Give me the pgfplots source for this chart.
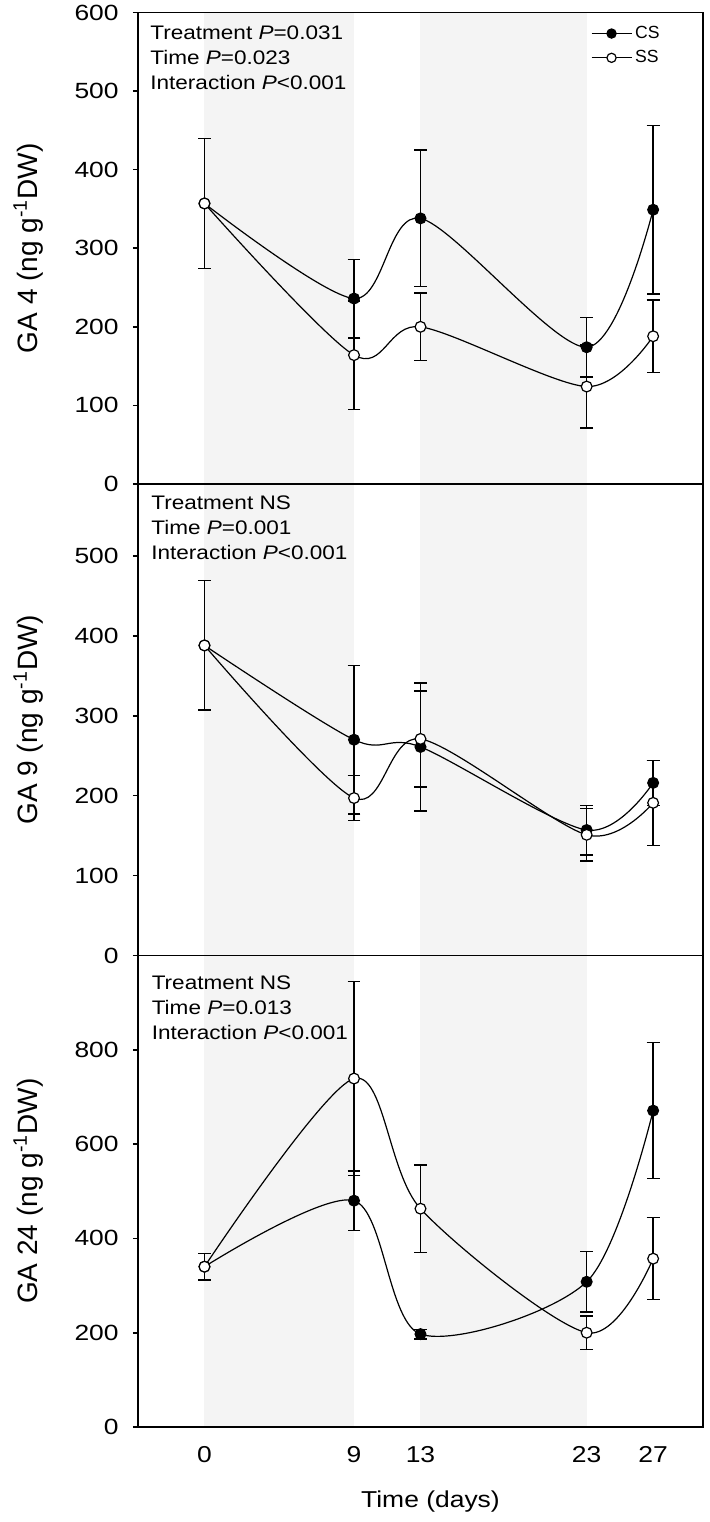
\documentclass[border=0pt]{standalone}
\usepackage{pgfplots}
\pgfplotsset{compat=1.18}
\usepackage{fontspec}
\setmainfont{Liberation Sans}
\newfontfamily\numfont{Liberation Sans}[FakeStretch=1.2]
\newfontfamily\widefont{Liberation Sans}[FakeStretch=1.15]
\definecolor{bandgray}{RGB}{244,244,244}

\pgfplotsset{
  panel/.style={
    scale only axis, width=282.5pt, height=235.75pt,
    anchor=south west,
    xmin=-4, xmax=30, xtick={0,9,13,23,27},
    xtick style={draw=none},
    ytick pos=left, tick align=outside, major tick length=2.5pt,
    axis line style={line width=0.8pt},
    ytick style={line width=0.8pt, black},
    yticklabel style={font=\numfont\fontsize{11}{13}\selectfont, inner sep=0pt, xshift=-7pt},
    xticklabel style={font=\widefont\fontsize{11.5}{13}\selectfont, inner sep=0pt},
    /pgf/number format/assume math mode=true,
    axis on top,
    ylabel style={at={(axis description cs:-0.194,0.5)}, anchor=center, font=\fontsize{14}{16}\selectfont},
  },
  csplot/.style={black, line width=0.6pt, smooth, mark=*, mark size=2.7pt,
    mark options={fill=black, draw=black, solid},
    error bars/.cd, y dir=both, y explicit,
    error bar style={line width=0.7pt, black},
    error mark options={rotate=90, mark size=3.2pt, line width=0.7pt, black}},
  ssplot/.style={black, line width=0.6pt, smooth, mark=*, mark size=2.7pt,
    mark options={fill=white, draw=black, solid},
    error bars/.cd, y dir=both, y explicit,
    error bar style={line width=0.7pt, black},
    error mark options={rotate=90, mark size=3.2pt, line width=0.7pt, black}},
  band/.style={draw=none, fill=bandgray, forget plot},
}

\begin{document}
\begin{tikzpicture}
\useasboundingbox (-69pt,-47.5pt) rectangle (285.5pt,713.5pt);

% ---------- Panel 1: GA4 ----------
\begin{axis}[panel, at={(0pt,471.5pt)},
  ymin=0, ymax=600, ytick={0,100,...,600},
  xticklabels={},
  ylabel={GA 4 (ng g\textsuperscript{-1}DW)},
  legend style={at={(axis description cs:1,1)}, anchor=north east,
    xshift=-20pt, yshift=-5pt, draw=none, fill=none, inner sep=0pt,
    font=\fontsize{8.8}{10.5}\selectfont, row sep=1.5pt,
    nodes={inner sep=1.5pt},
    cells={anchor=west}},
  legend image code/.code={\draw[mark repeat=2,mark phase=2,mark size=2.3pt,#1] plot coordinates {(0pt,0pt) (10pt,0pt) (20pt,0pt)};},
]
\addplot[band] coordinates {(0,0) (0,600) (9,600) (9,0)} -- cycle;
\addplot[band] coordinates {(13,0) (13,600) (23,600) (23,0)} -- cycle;
\addplot[csplot] table[x=x, y=y, y error=e] {
x y e
0 357 83
9 236 50
13 338 87
23 174 38
27 349 107
};
\addlegendentry{CS}
\addplot[ssplot] table[x=x, y=y, y error=e] {
x y e
0 357 83
9 164 69
13 200 43
23 124 53
27 188 46
};
\addlegendentry{SS}
\node[anchor=north west, align=left, inner sep=0pt, font=\widefont\fontsize{9.8}{12.5}\selectfont]
  at (axis description cs:0,1) [xshift=6pt, yshift=-6.5pt]
  {Treatment \textit{P}=0.031\\Time \textit{P}=0.023\\Interaction \textit{P}<0.001};
\end{axis}

% ---------- Panel 2: GA9 ----------
\begin{axis}[panel, at={(0pt,235.75pt)},
  ymin=0, ymax=590, ytick={0,100,...,500},
  xticklabels={},
  ylabel={GA 9 (ng g\textsuperscript{-1}DW)},
]
\addplot[band] coordinates {(0,0) (0,600) (9,600) (9,0)} -- cycle;
\addplot[band] coordinates {(13,0) (13,600) (23,600) (23,0)} -- cycle;
\addplot[csplot] table[x=x, y=y, y error=e] {
x y e
0 388 81
9 270 93
13 261 80
23 157 31
27 216 28
};
\addplot[ssplot] table[x=x, y=y, y error=e] {
x y e
0 388 81
9 197 28
13 271 60
23 151 33
27 191 53
};
\node[anchor=north west, align=left, inner sep=0pt, font=\widefont\fontsize{9.8}{12.5}\selectfont]
  at (axis description cs:0,1) [xshift=6.5pt, yshift=-5.5pt]
  {Treatment NS\\Time \textit{P}=0.001\\Interaction \textit{P}<0.001};
\end{axis}

% ---------- Panel 3: GA24 ----------
\begin{axis}[panel, at={(0pt,0pt)},
  ymin=0, ymax=1000, ytick={0,200,...,800},
  xlabel={Time (days)},
  xlabel style={at={(axis description cs:0.5,0)}, anchor=center, xshift=5pt, yshift=-37.5pt, font=\widefont\fontsize{11.5}{14}\selectfont},
  xticklabel style={yshift=-7pt},
  ylabel={GA 24 (ng g\textsuperscript{-1}DW)},
]
\addplot[band] coordinates {(0,0) (0,1000) (9,1000) (9,0)} -- cycle;
\addplot[band] coordinates {(13,0) (13,1000) (23,1000) (23,0)} -- cycle;
\addplot[csplot] table[x=x, y=y, y error=e] {
x y e
0 340 28
9 480 63
13 197 10
23 308 64
27 671 144
};
\addplot[ssplot] table[x=x, y=y, y error=e] {
x y e
0 340 28
9 739 206
13 463 93
23 200 35
27 357 87
};
\node[anchor=north west, align=left, inner sep=0pt, font=\widefont\fontsize{9.8}{12.5}\selectfont]
  at (axis description cs:0,1) [xshift=6.7pt, yshift=-10pt]
  {Treatment NS\\Time \textit{P}=0.013\\Interaction \textit{P}<0.001};
\end{axis}
\end{tikzpicture}
\end{document}
